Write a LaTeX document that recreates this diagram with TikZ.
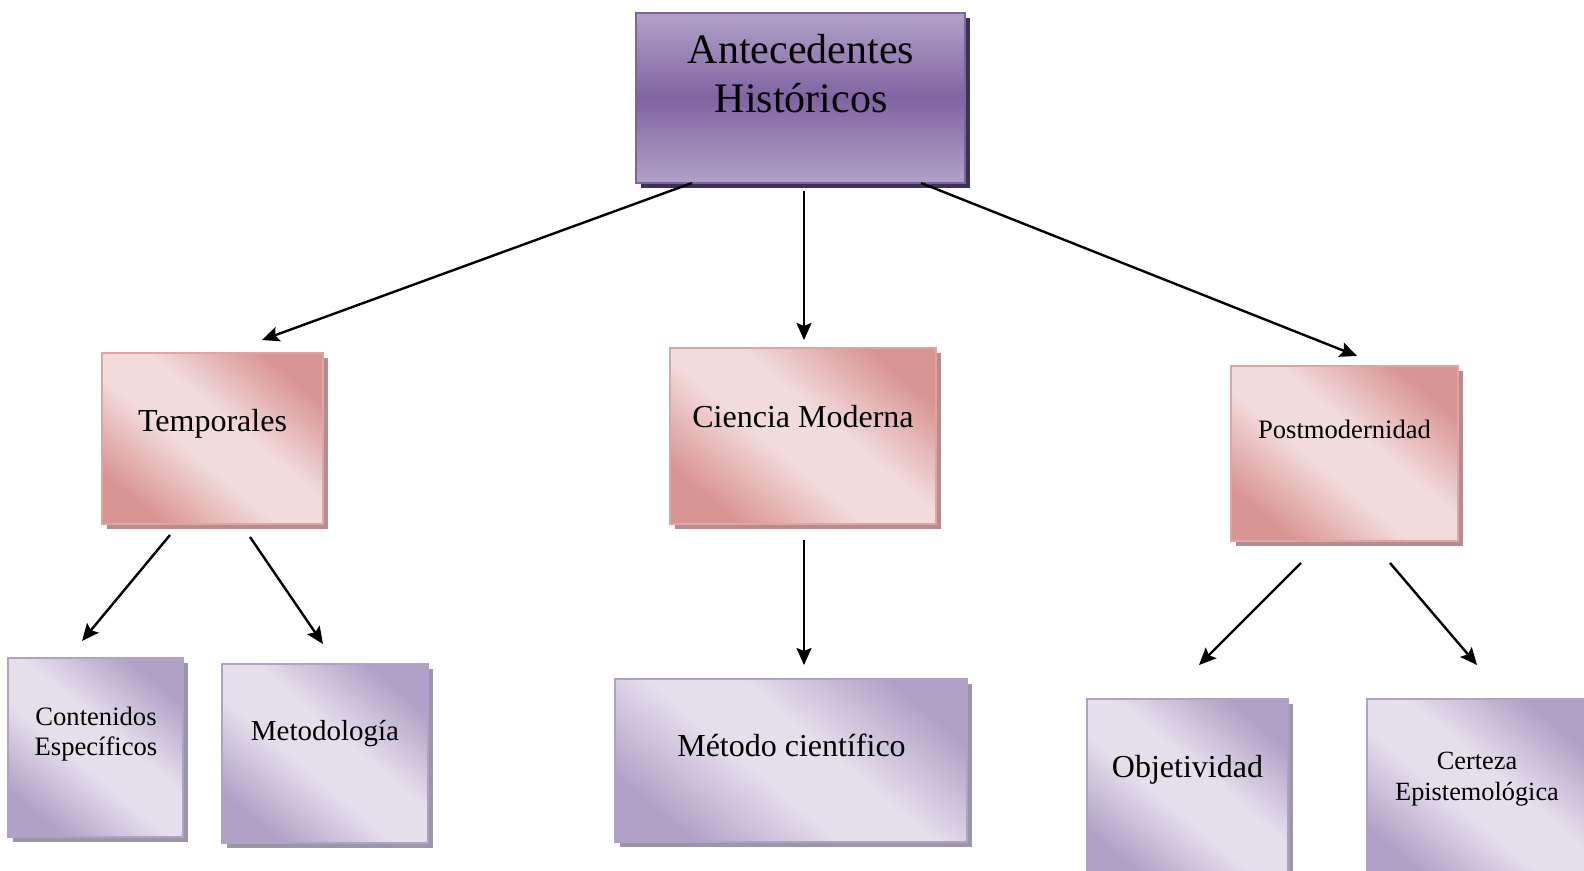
\documentclass[tikz,border=0pt]{standalone}
\usepackage{fontspec}
\setmainfont{Liberation Serif}
\usetikzlibrary{arrows.meta,shadows}
\definecolor{pinkdark}{HTML}{D99594}
\definecolor{pinklight}{HTML}{F2DCDB}
\definecolor{pinkline}{HTML}{E0A4A3}
\definecolor{pinkshadow}{HTML}{B48E8E}
\definecolor{lilacdark}{HTML}{B2A1C7}
\definecolor{lilaclight}{HTML}{E5DFEC}
\definecolor{lilacshadow}{HTML}{9D96A6}
\definecolor{violetmid}{HTML}{8064A2}
\definecolor{violetshadow}{HTML}{3F3151}
\pgfdeclareverticalshading{pinkshade}{100bp}{color(0bp)=(pinkdark); color(25bp)=(pinkdark); color(44bp)=(pinklight); color(56bp)=(pinklight); color(75bp)=(pinkdark); color(100bp)=(pinkdark)}
\pgfdeclareverticalshading{lilacshade}{100bp}{color(0bp)=(lilacdark); color(25bp)=(lilacdark); color(44bp)=(lilaclight); color(56bp)=(lilaclight); color(75bp)=(lilacdark); color(100bp)=(lilacdark)}
\begin{document}
\begin{tikzpicture}[x=1pt,y=-1pt,
 headbox/.style={draw=violetmid,line width=2pt,inner sep=0,top color=lilacdark,bottom color=lilacdark,middle color=violetmid,
  drop shadow={shadow xshift=5pt,shadow yshift=-5pt,fill=violetshadow,opacity=1}},
 pinkbox/.style={draw=pinkline,line width=2pt,inner sep=0,shade,shading=pinkshade,shading angle=-40,
  drop shadow={shadow xshift=5pt,shadow yshift=-5pt,fill=pinkshadow,opacity=1}},
 lilacbox/.style={draw=lilacdark,line width=2pt,inner sep=0,shade,shading=lilacshade,shading angle=-40,
  drop shadow={shadow xshift=5pt,shadow yshift=-5pt,fill=lilacshadow,opacity=1}},
 txt/.style={inner sep=0,align=center},
 arr/.style={line width=2.4pt,-{Stealth[length=17pt,width=15pt,inset=3pt]}}]
\clip (0,0) rectangle (1584,870);
% boxes
\node[headbox,minimum width=329pt,minimum height=170pt] (top) at (800.5,98) {};
\node[pinkbox,minimum width=221pt,minimum height=171pt] (temp) at (212.5,438.5) {};
\node[pinkbox,minimum width=266pt,minimum height=176pt] (cien) at (803,436) {};
\node[pinkbox,minimum width=227pt,minimum height=175pt] (post) at (1344.5,453.5) {};
\node[lilacbox,minimum width=175pt,minimum height=179pt] (cont) at (95.5,747.5) {};
\node[lilacbox,minimum width=206pt,minimum height=179pt] (meto) at (325,753.5) {};
\node[lilacbox,minimum width=352pt,minimum height=163pt] (metc) at (791,760.5) {};
\node[lilacbox,minimum width=201pt,minimum height=181pt] (obje) at (1187.5,789.5) {};
\node[lilacbox,minimum width=220pt,minimum height=181pt] (cert) at (1477,789.5) {};
% texts
\node[txt,font=\fontsize{42}{49}\selectfont] (top-t) at (801,74) {Antecedentes\\Históricos};
\node[txt,anchor=base,font=\fontsize{32}{38}\selectfont] (temp-t) at (212.5,431.7) {Temporales};
\node[txt,anchor=base,font=\fontsize{32}{38}\selectfont] (cien-t) at (803,427) {Ciencia Moderna};
\node[txt,anchor=base,font=\fontsize{26.6}{31}\selectfont] (post-t) at (1344.5,438.3) {Postmodernidad};
\node[txt,font=\fontsize{26.6}{30.7}\selectfont] (cont-t) at (96,734) {Contenidos\\Específicos};
\node[txt,anchor=base,font=\fontsize{29}{35}\selectfont] (meto-t) at (325,740) {Metodología};
\node[txt,anchor=base,font=\fontsize{32}{38}\selectfont] (metc-t) at (791.5,756.7) {Método científico};
\node[txt,anchor=base,font=\fontsize{32}{38}\selectfont] (obje-t) at (1187.5,777) {Objetividad};
\node[txt,font=\fontsize{26.3}{30.7}\selectfont] (cert-t) at (1477,779) {Certeza\\Epistemológica};
% arrow ends
\coordinate (p1) at (692,183);  \coordinate (q1) at (262,340);
\coordinate (p2) at (804,191);  \coordinate (q2) at (804,340);
\coordinate (p3) at (921,183);  \coordinate (q3) at (1357,356);
\coordinate (p4) at (170,535);  \coordinate (q4) at (82,641);
\coordinate (p5) at (250,537);  \coordinate (q5) at (323,644);
\coordinate (p6) at (804,540);  \coordinate (q6) at (804,665);
\coordinate (p7) at (1301,563); \coordinate (q7) at (1199,665);
\coordinate (p8) at (1390,563); \coordinate (q8) at (1477,665);
\draw[arr] (p1) -- (q1);
\draw[arr] (p2) -- (q2);
\draw[arr] (p3) -- (q3);
\draw[arr] (p4) -- (q4);
\draw[arr] (p5) -- (q5);
\draw[arr] (p6) -- (q6);
\draw[arr] (p7) -- (q7);
\draw[arr] (p8) -- (q8);
\end{tikzpicture}
\end{document}
